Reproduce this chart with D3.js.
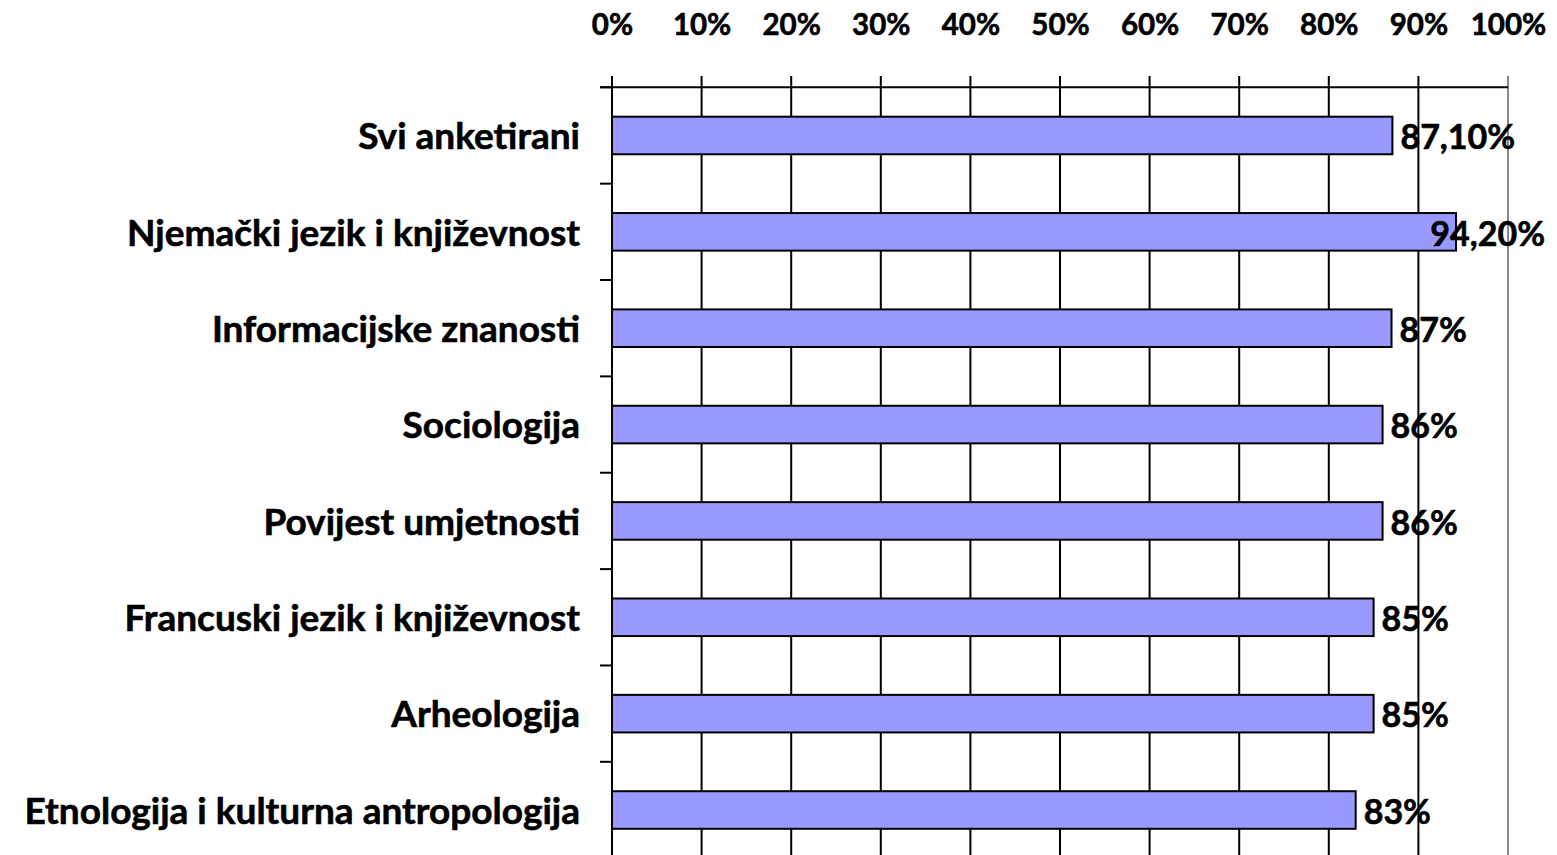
<!DOCTYPE html>
<html>
<head>
<meta charset="utf-8">
<script src="https://cdn.jsdelivr.net/npm/d3@7"></script>
<style>
  body { margin: 0; background: #fff; }
  text { font-family: Lato, "Open Sans", sans-serif; font-weight: bold; fill: #000; stroke: #000; stroke-width: 0.6px; }
</style>
</head>
<body>
<div id="chart"></div>
<script>
const categories = [
  "Svi anketirani",
  "Njemački jezik i književnost",
  "Informacijske znanosti",
  "Sociologija",
  "Povijest umjetnosti",
  "Francuski jezik i književnost",
  "Arheologija",
  "Etnologija i kulturna antropologija"
];
const values = [87.1, 94.2, 87, 86, 86, 85, 85, 83];
const valueLabels = ["87,10%", "94,20%", "87%", "86%", "86%", "85%", "85%", "83%"];
const tickValues = [0, 10, 20, 30, 40, 50, 60, 70, 80, 90, 100];

const W = 1557, H = 855;
const plotLeft = 612, plotRight = 1508, plotTop = 87.3, band = 96.36;

const svg = d3.select("#chart").append("svg")
  .attr("width", W)
  .attr("height", H);

const x = d3.scaleLinear().domain([0, 100]).range([plotLeft, plotRight]);
const y = d3.scaleBand().domain(categories)
  .range([plotTop, plotTop + band * categories.length])
  .paddingInner(0.61).paddingOuter(0.305);

// vertical gridlines (100% one is grey)
svg.selectAll(".grid")
  .data(tickValues)
  .enter()
  .append("line")
  .attr("x1", d => x(d)).attr("x2", d => x(d))
  .attr("y1", 76).attr("y2", H + 10)
  .attr("stroke", d => d === 100 ? "#888" : "#000")
  .attr("stroke-width", 2);

// top axis
const xAxis = d3.axisTop(x)
  .tickValues(tickValues)
  .tickFormat(d => d + "%")
  .tickSize(0);

const gx = svg.append("g")
  .attr("transform", `translate(0, ${plotTop})`)
  .call(xAxis);
gx.select(".domain").remove();
gx.append("line")
  .attr("x1", plotLeft - 12).attr("x2", plotRight)
  .attr("stroke", "#000").attr("stroke-width", 2);
gx.selectAll(".tick text")
  .attr("y", 35 - plotTop)
  .attr("dy", 0)
  .style("font-size", "29.5px")
  .style("font-family", "Lato, sans-serif")
  .style("font-weight", "bold");

// left axis ticks at band boundaries
const boundaries = d3.range(categories.length + 1).map(i => plotTop + i * band);
svg.selectAll(".ytick")
  .data(boundaries)
  .enter()
  .append("line")
  .attr("x1", plotLeft - 12).attr("x2", plotLeft)
  .attr("y1", d => d).attr("y2", d => d)
  .attr("stroke", "#000").attr("stroke-width", 2);

// category labels
svg.selectAll(".cat")
  .data(categories)
  .enter()
  .append("text")
  .attr("class", "cat")
  .attr("x", 580)
  .attr("y", d => y(d) + y.bandwidth() / 2 + 13.8)
  .attr("text-anchor", "end")
  .style("font-size", "37px")
  .text(d => d);

// bars
svg.selectAll(".bar")
  .data(values)
  .enter()
  .append("rect")
  .attr("class", "bar")
  .attr("x", x(0))
  .attr("y", (d, i) => y(categories[i]))
  .attr("width", d => x(d) - x(0))
  .attr("height", y.bandwidth())
  .attr("fill", "#9999FF")
  .attr("stroke", "#000")
  .attr("stroke-width", 2);

// value labels
svg.selectAll(".val")
  .data(values)
  .enter()
  .append("text")
  .attr("class", "val")
  .attr("x", d => x(d) + 8)
  .attr("y", (d, i) => y(categories[i]) + y.bandwidth() / 2 + 13.8)
  .style("font-size", "34px")
  .text((d, i) => valueLabels[i])
  .each(function() {
    // keep label inside the chart area like the original
    const w = this.getComputedTextLength();
    const xs = +d3.select(this).attr("x");
    if (xs + w > 1545) d3.select(this).attr("x", 1545 - w);
  });
</script>
</body>
</html>
